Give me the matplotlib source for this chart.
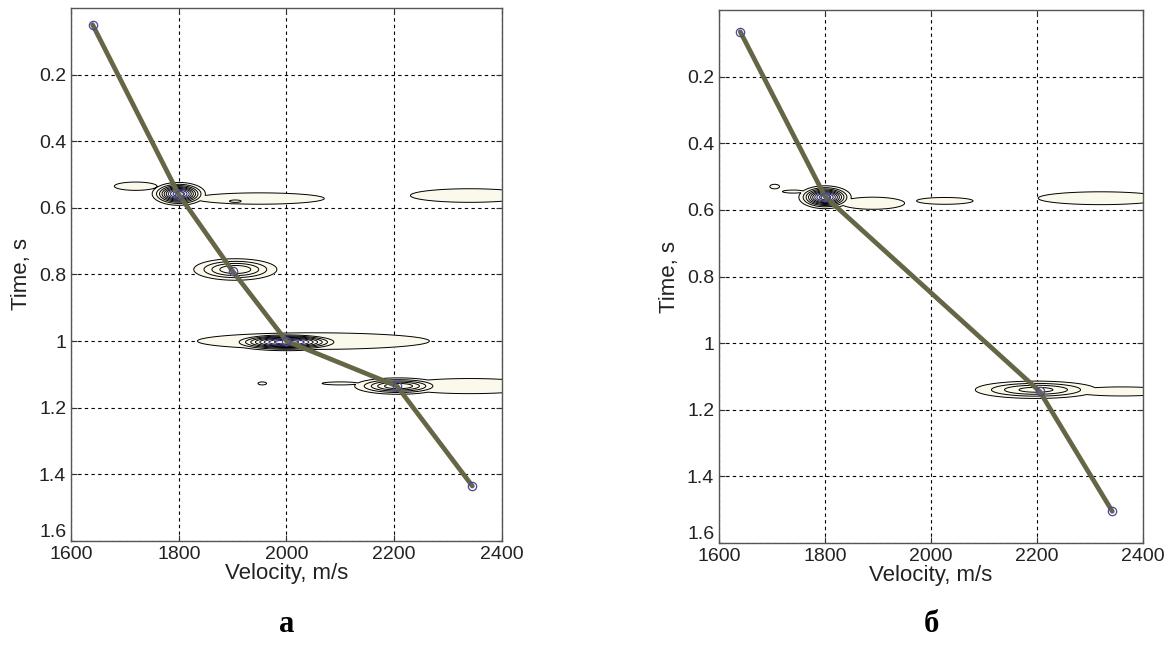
import numpy as np
import matplotlib
matplotlib.use("Agg")
import matplotlib.pyplot as plt

plt.rcParams['font.family'] = ['Liberation Sans', 'DejaVu Sans']

# picked velocity law (velocity m/s, time s)
pick_v_a = [1640, 1800, 1900, 2000, 2205, 2345]
pick_t_a = [0.05, 0.56, 0.79, 1.00, 1.135, 1.435]
pick_v_b = [1640, 1800, 2205, 2342]
pick_t_b = [0.065, 0.56, 1.145, 1.505]

# semblance peaks: centre v, centre t, spread v, spread t, amplitude
blob_v_a = [1800, 1720, 1950, 1905, 2340, 1905, 2000, 2050, 2208, 2340, 2100, 1955]
blob_t_a = [0.558, 0.535, 0.572, 0.580, 0.563, 0.785, 1.003, 1.000, 1.135, 1.135, 1.127, 1.127]
blob_sv_a = [23, 35, 106, 18, 97, 43, 49, 190, 43, 115, 30, 7]
blob_st_a = [0.016, 0.011, 0.015, 0.006, 0.018, 0.018, 0.012, 0.022, 0.013, 0.020, 0.004, 0.004]
blob_amp_a = [1.0, 0.19, 0.19, 0.24, 0.19, 0.5, 1.0, 0.19, 0.6, 0.19, 0.19, 0.19]

blob_v_b = [1800, 1890, 1740, 1705, 2026, 2320, 2198, 2360]
blob_t_b = [0.562, 0.580, 0.545, 0.530, 0.573, 0.565, 1.140, 1.145]
blob_sv_b = [23, 53, 18, 8, 47, 104, 66, 80]
blob_st_b = [0.016, 0.016, 0.004, 0.006, 0.009, 0.017, 0.015, 0.012]
blob_amp_b = [1.0, 0.19, 0.19, 0.19, 0.19, 0.19, 0.45, 0.19]

xticks = [1600, 1800, 2000, 2200, 2400]
yticks = [0.2, 0.4, 0.6, 0.8, 1.0, 1.2, 1.4, 1.6]
yticklabels = ['0.2', '0.4', '0.6', '0.8', '1', '1.2', '1.4', '1.6']
panel_labels = ['а', 'б']

levels = [0.1, 0.2, 0.3, 0.4, 0.5, 0.6, 0.7, 0.8, 0.9, 1.0]

vv = np.linspace(1600, 2400, 801)
tt = np.linspace(0, 1.6, 1601)
V, T = np.meshgrid(vv, tt)


def field(bv, bt, bsv, bst, ba):
    f = np.zeros_like(V)
    for v0, t0, sv, st, a in zip(bv, bt, bsv, bst, ba):
        f = np.maximum(f, a * np.exp(-0.5 * ((V - v0) / sv) ** 2 - 0.5 * ((T - t0) / st) ** 2))
    return f


fig = plt.figure(figsize=(11.72, 6.54), dpi=100)
ax_a = fig.add_axes([0.0606, 0.1728, 0.3677, 0.815])
ax_b = fig.add_axes([0.6135, 0.1697, 0.3618, 0.815])

panels = [
    (ax_a, pick_v_a, pick_t_a, (blob_v_a, blob_t_a, blob_sv_a, blob_st_a, blob_amp_a)),
    (ax_b, pick_v_b, pick_t_b, (blob_v_b, blob_t_b, blob_sv_b, blob_st_b, blob_amp_b)),
]

for i, (ax, pv, pt, blobs) in enumerate(panels):
    F = field(*blobs)
    ax.contourf(V, T, F, levels=[levels[0], 2], colors=['#fbf8ec'], zorder=1)
    lcol = ['black'] * 6 + ['#1c1c55'] * 4
    ax.contour(V, T, F, levels=levels, colors=lcol, linewidths=0.7, zorder=2)
    ax.plot(pv, pt, color='#666646', lw=3.4, zorder=4, solid_capstyle='round')
    ax.plot(pv, pt, 'o', ms=6, mfc='none', mec='#4848a0', mew=0.9, zorder=5)

    ax.set_xlim(1600, 2400)
    ax.set_ylim(1.6, 0.0)
    ax.set_xticks(xticks)
    ax.set_yticks(yticks)
    ax.set_yticklabels(yticklabels)
    ax.tick_params(direction='in', length=4, labelsize=14, top=True, right=True, colors='#333333')
    for lab in ax.get_xticklabels() + ax.get_yticklabels():
        lab.set_color('#222222')
    ax.get_yticklabels()[-1].set_va('bottom')
    ax.grid(True, color='black', linestyle=(0, (3, 3)), linewidth=0.8)
    ax.set_axisbelow(True)
    for s in ax.spines.values():
        s.set_color('#555555')
        s.set_linewidth(1.0)
    ax.set_xlabel('Velocity, m/s', fontsize=16, labelpad=0, color='#222222')
    ax.set_ylabel('Time, s', fontsize=16, labelpad=5, color='#222222')
    pos = ax.get_position()
    fig.text(pos.x0 + pos.width / 2, 0.045, panel_labels[i], ha='center', va='center',
             fontsize=22, fontweight='bold', family=['Liberation Serif', 'DejaVu Serif'])

fig.savefig('out.png', dpi=100)
